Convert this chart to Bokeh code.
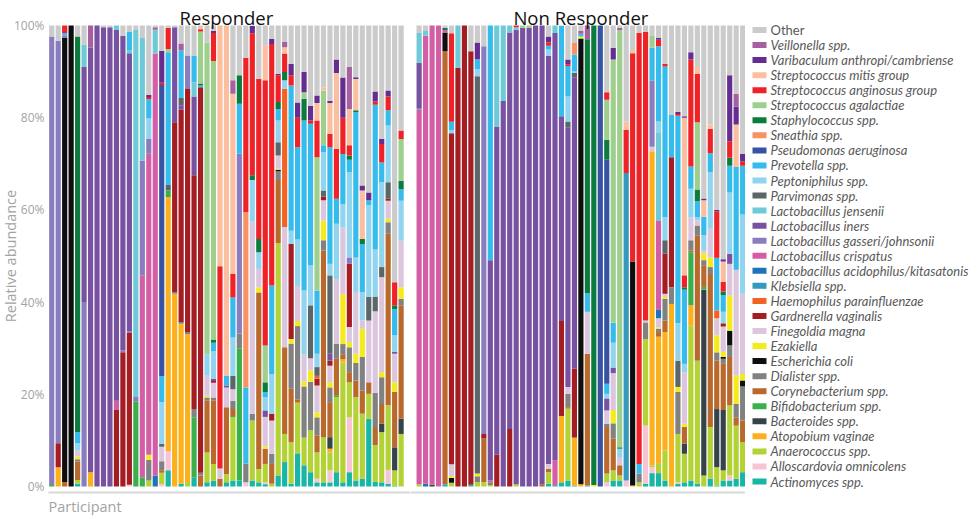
from math import pi
from bokeh.plotting import figure
from bokeh.models import ColumnDataSource, Range1d, Label
from bokeh.layouts import row
from bokeh.embed import file_html
from bokeh.resources import INLINE
from bokeh.core.properties import value

# ---------------- data ----------------
# stacking order, bottom -> top
taxa = ["act", "all", "ana", "ato", "bac", "bif", "cor", "dia", "eco", "eza", "fin",
        "gar", "hae", "kle", "lac", "lcr", "lga", "lin", "lje", "par", "pep", "pre",
        "pse", "sne", "sta", "sag", "san", "smi", "var", "vei", "oth"]

taxon_names = ["Actinomyces spp.", "Alloscardovia omnicolens", "Anaerococcus spp.",
               "Atopobium vaginae", "Bacteroides spp.", "Bifidobacterium spp.",
               "Corynebacterium spp.", "Dialister spp.", "Escherichia coli", "Ezakiella",
               "Finegoldia magna", "Gardnerella vaginalis", "Haemophilus parainfluenzae",
               "Klebsiella spp.", "Lactobacillus acidophilus/kitasatonis",
               "Lactobacillus crispatus", "Lactobacillus gasseri/johnsonii",
               "Lactobacillus iners", "Lactobacillus jensenii", "Parvimonas spp.",
               "Peptoniphilus spp.", "Prevotella spp.", "Pseudomonas aeruginosa",
               "Sneathia spp.", "Staphylococcus spp.", "Streptococcus agalactiae",
               "Streptococcus anginosus group", "Streptococcus mitis group",
               "Varibaculum anthropi/cambriense", "Veillonella spp.", "Other"]

taxon_colors = ["#17b6a5", "#f8c3d5", "#b3d236", "#fcb01b", "#36434b", "#3bb04a",
                "#b8692b", "#818181", "#0e0e0e", "#f5ea1b", "#dcc6dd",
                "#a41d22", "#f26224", "#3598bd", "#1d74bb", "#d45ea6", "#8a7dbf",
                "#7851a1", "#6fcad7", "#5b6669", "#90d4ef", "#35bbec",
                "#3853a4", "#f79263", "#0c7c3e", "#9ecf8c", "#ee2227", "#fbbf9f",
                "#662d90", "#a5619f", "#cbcbcb"]

panel_titles = ["Responder", "Non Responder"]
y_ticks = [0, 20, 40, 60, 80, 100]
y_tick_labels = ["0%", "20%", "40%", "60%", "80%", "100%"]
y_title = "Relative abundance"
x_title = "Participant"

# relative abundance (%) per participant; "oth" = remainder to 100
responder = [
    dict(bif=.3, lga=97.3),
    dict(ato=4.2, gar=5.2, lga=87.3),
    dict(cor=1, eco=96.3, lga=.6, pre=.5, san=1.6),
    dict(eco=100),
    dict(act=.6, ana=.8, cor=4, dia=.5, eza=.6, fin=1.3, pep=1.6, pre=2.4, sta=85.8),
    dict(lga=40, lin=51, lje=4.9),
    dict(ato=3.1, lin=92.1, vei=4.8),
    dict(lin=100),
    dict(lin=99.6),
    dict(lin=99.6),
    dict(gar=16.6, lcr=2, lin=80.4, lje=1),
    dict(gar=29.1, lga=.4, lin=68.3),
    dict(all=.4, gar=32.9, lga=.3, lin=60.4, lje=.7, pre=4),
    dict(bif=18.5, lga=.9, lje=79.6),
    dict(bif=2, lcr=43.8, lga=24.9, lje=26.6),
    dict(ana=1.3, dia=4.5, eza=1.1, lcr=65.3, lga=3.3, pep=4.3, pre=4.2, san=.5, var=.4),
    dict(lac=2.4, lcr=91.5, lje=5.2, vei=.5),
    dict(all=.5, ana=2.5, cor=.5, dia=2, fin=3.1, par=.7, pep=9, pre=5.6, pse=63.2, san=.5, var=6.9),
    dict(act=3.5, all=4.2, ato=55.1, bif=1.4, par=1.2, pre=28.8, sag=.7, san=4.6),
    dict(ato=41.8, dia=.4, gar=36.8, lin=20.6),
    dict(act=.6, ato=34.7, dia=.4, gar=46, lin=1, par=1.6, pre=10.3, vei=1.5),
    dict(ana=1, ato=32, dia=.4, gar=52.8, lga=7.3),
    dict(act=1.9, bif=13.1, dia=1.8, gar=50.7, lin=17.1, lje=3.1, pre=5.8),
    dict(cor=2.4, dia=.6, gar=83.6, pre=.4, sta=.4, sag=11.3, san=.5, smi=.5),
    dict(act=.9, ana=6.5, cor=11.2, dia=.7, eza=.4, fin=4.3, pep=4.7, sag=67.6),
    dict(act=1.3, ana=3.6, cor=13.7, dia=.7, fin=3.2, gar=.4, lin=.4, pep=6.1, pre=1.8, sta=.7, sag=60.4, san=6.1, var=.4),
    dict(cor=1.7, fin=2.2, san=43.9, smi=52.2),
    dict(act=.9, ana=1.8, cor=14.5, fin=4.3, lin=.4, pre=2.2, smi=75.9),
    dict(act=1.3, ana=13.7, bif=.3, cor=1.5, dia=1.8, fin=2.5, par=2.9, pep=8.3, pre=8.7, san=5.1, smi=39.1, vei=2.9),
    dict(act=1.3, bif=28.6, dia=3.3, lga=39, pre=10.8, sta=6.2),
    dict(all=.9, dia=4.1, pre=16.5, sne=38, san=33.5),
    dict(act=1.3, ana=13, dia=1.5, fin=41.7, pep=9, sta=1, san=30.8, var=1.6),
    dict(act=.9, ana=2.9, cor=38.3, eza=1.1, fin=4, pep=3.6, sta=2.9, san=34.7),
    dict(act=.5, all=.4, ana=4, cor=3.3, eza=.5, fin=6.4, lin=1.4, pep=2.9, pre=1.1, sta=2.1, sag=8, san=57.5, smi=7.6),
    dict(ana=.6, cor=4.3, dia=2.2, fin=7.2, gar=1.5, pep=8.6, pre=19.2, san=52.4, var=1.1),
    dict(act=2.4, ana=50.4, cor=13.7, dia=1.9, eco=.3, eza=.2, fin=2.9, par=2.9, pep=4.7, pre=2.5, sta=1.5, san=5.8, var=.3),
    dict(act=5.3, ana=6.1, cor=18.8, fin=26.1, hae=30, pep=1.8, sta=1.8, san=4, smi=1.4, vei=1.1),
    dict(act=.6, ana=9, cor=11.6, dia=9.8, eza=1, gar=20.6, pep=2.9, pre=31.5, san=2.2, var=2.5),
    dict(act=7.2, ana=11, cor=.7, dia=15.9, eza=1.1, fin=7.6, pep=10.1, pre=20, san=6.4, var=3.3),
    dict(act=4.6, ana=6, dia=11.1, eza=1.1, fin=5.8, pep=13.9, pre=36.9, sta=4.7, sag=1.4, var=4.4),
    dict(act=3.1, ana=9.1, dia=10.5, eza=2.5, fin=2.6, par=11.5, pep=8.7, pre=30.7, san=.7, var=3.2),
    dict(act=.9, all=.8, ana=5.7, cor=3.7, dia=3.9, eza=1.1, fin=5.8, gar=1.5, hae=.6, par=1.9, pep=2.9, pre=13.7, sag=28.9, san=8, smi=3.8, var=1.6),
    dict(act=.9, ana=9.8, cor=40.5, dia=2.2, eza=4.3, fin=4.4, gar=.8, par=1.3, pep=8.3, pre=1.5, sag=11.9, smi=.7),
    dict(act=.9, all=2.6, ana=3.9, ato=.8, bac=2.5, cor=7.6, dia=3.2, eza=1.1, fin=3.6, gar=1.1, lin=1.5, par=17, pep=2.5, pre=25.3, san=2.9, smi=6.7, var=.5),
    dict(act=3.1, ana=16.3, bif=.4, cor=7.9, dia=3.3, fin=14, pep=12, pre=5.4, san=10.8, smi=16.5, var=2.9),
    dict(act=.9, ana=26, ato=.7, cor=1.1, dia=2.2, eza=10.8, fin=14.5, pep=5, pre=10.9, san=7.9, var=8.7),
    dict(act=3.1, all=11.9, ana=7.6, cor=2.2, dia=5.4, eza=1.1, fin=3.3, gar=13.7, lga=1.4, pep=18.5, pre=2.7, sta=.9, san=2.2, smi=7.9, vei=9.1),
    dict(act=1.3, ana=18.1, cor=3.6, dia=3.8, eza=2, fin=13.4, pep=7.5, pre=31.5, sta=.4, smi=6.8, var=.4),
    dict(act=1.7, ana=14.1, cor=5, dia=7.3, eza=6.1, fin=1.8, pep=6.2, pre=10.4, sta=1.1, smi=10.5, var=1.1),
    dict(act=14.7, ana=5.4, cor=2.5, fin=13.4, par=5.1, pep=19.9, pre=1.1, var=1.7),
    dict(act=1, ana=8, cor=3.9, dia=7.4, fin=17.7, par=3.2, pep=10.2, pre=31.4, san=.7, var=2.2),
    dict(act=.9, ana=10.9, bac=1.8, cor=4.3, dia=5.8, eza=1.1, fin=20.6, par=2.2, pep=18.4, pre=4.3, san=4, var=1.1),
    dict(act=.6, all=3, ana=14, cor=37.2, dia=2.5, eza=.8, fin=3.9, gar=.4, par=3.6, pep=12.3, pre=3.3, san=3, var=1.3),
    dict(act=.2, ana=3.3, bac=5, cor=12, eza=2.1, fin=6.2, lin=.4, pep=3.6, pre=5.7, sta=.8, san=5),
    dict(ana=11.4, bac=3.3, cor=24.6, dia=1.4, eza=2.5, fin=10.1, pep=8.7, pre=2.5, sta=1.8, sag=9.1, san=1.8),
]

non_responder = [
    dict(ana=.5, lcr=81.2, lga=.4, lin=9.8, lje=6.5),
    dict(lac=.6, lcr=97.2, lje=1),
    dict(bac=.4, lcr=99.6),
    dict(lcr=100),
    dict(act=.5, cor=93.9, eco=4.1, lcr=.5, sta=.5),
    dict(ana=.8, eco=1.1, eza=.4, fin=2.5, gar=71.8, pep=.7, pre=1.8, san=19.2),
    dict(gar=90.8, lje=9.2),
    dict(gar=100),
    dict(act=.4, gar=94),
    dict(ana=1, dia=1.2, eza=.6, par=86.2, pep=1.5, pre=2.2, var=3.6),
    dict(ana=1, cor=9.4, gar=1, lga=84.1),
    dict(ana=.3, dia=.6, lcr=.4, lin=47.8, pre=50.9),
    dict(gar=6.9, lin=71.2, lje=21.9),
    dict(lin=83.6, lje=16.4),
    dict(gar=12.5, lin=86, lje=1.5),
    dict(ana=.5, lin=98.6, lje=.5, san=.4),
    dict(lin=99.5, sag=.5),
    dict(lin=99.5, sag=.5),
    dict(lin=100),
    dict(cor=.5, lin=99.5),
    dict(act=.6, ana=2.5, cor=.7, fin=1.1, lin=88.5, pep=1.4, pre=.8, san=.7, var=1.3),
    dict(act=.3, lcr=5.4, lin=92.7, lje=1.6),
    dict(act=.9, ato=14.4, gar=20.6, lin=44.4, pre=19.6),
    dict(act=1.3, ana=15.6, cor=.3, dia=2.9, fin=1.5, lin=56.2, par=1.4, pep=5.4, pre=6.6, san=.4, var=1),
    dict(act=.2, ato=10.4, gar=15, lin=63.2, par=.9, pep=.3, pre=3.7, sne=2.5),
    dict(ato=.5, eco=96.7, eza=.4, pre=.6, vei=.6),
    dict(act=.2, cor=28.6, fin=9.1, pre=4.1, sta=55, vei=3),
    dict(eza=.3, sta=99.7),
    dict(pse=100),
    dict(all=.9, ana=1.9, cor=10.1, dia=.7, fin=2.9, lin=2.6, pep=1, pre=2.2, pse=48.6, sta=4.3, sag=8.7, san=1.6),
    dict(act=1.3, ana=2.2, cor=6.9, dia=3.3, eza=2.9, fin=8, lin=1.2, pep=5.4, pre=4.3, sag=57.1, var=2.5),
    dict(act=1.3, ana=1.1, cor=2.2, fin=1.8, pep=1.8, sta=.3, sag=90.5, vei=.5),
    dict(all=1.3, kle=66.7, san=9.4, smi=1.8),
    dict(ato=.2, eco=48.6, san=45.2, smi=.7),
    dict(ana=.9, dia=1.9, pre=2.1, san=93.5),
    dict(act=.6, all=12.6, ana=18.8, dia=3.6, fin=.4, san=62.6),
    dict(act=2.9, all=1.3, ana=.4, ato=68.1, fin=1, lga=14.3, pre=7.2, sag=2.5),
    dict(act=2.9, ana=2, ato=27.6, cor=1, dia=.7, eza=.3, fin=2, lac=1.8, lcr=19.3, lje=19.1, pep=2.5, pre=16.3, san=1.4, var=.4),
    dict(act=1.3, ana=6.5, ato=25.7, cor=2.5, dia=4.7, eza=.4, fin=.7, gar=8.7, par=2.9, pep=5, pre=32.7, san=.6),
    dict(ato=39.6, dia=3.6, gar=28.2, pre=9.3),
    dict(act=.6, all=.3, ana=10.5, dia=9.1, eza=1.1, par=5.7, pep=8.1, pre=45, san=.4, var=.5),
    dict(act=.9, ana=6.2, bac=2.2, cor=3.6, eza=.7, fin=11.2, pep=1.8, pre=16.1, sta=.5, san=2.6, smi=34.2, var=.3),
    dict(act=1.3, ana=33.6, ato=4.4, bif=11.5, cor=.4, dia=2.2, fin=5, pep=6.2, pre=4.8, san=23.2, var=1.6),
    dict(act=.6, ana=26.7, cor=27.1, dia=2.2, fin=1.1, pep=.7, pre=3.5, sta=2.5, sag=14.6, san=10.5, smi=1.5),
    dict(ana=2.4, bac=40.3, bif=.6, cor=4.7, dia=1.1, eza=1.5, fin=.7, pep=3.2, pre=4, smi=3.6, var=.4),
    dict(act=1.7, ana=11.2, cor=33.2, dia=1.5, eza=2.1, fin=6.2, pep=12.3, pre=4.1, san=5.3, smi=.9),
    dict(act=.2, ana=4, bac=12.6, cor=10.5, dia=1.8, eza=3.7, fin=3.7, hae=1.7, pre=11.4, san=10.1, var=.3),
    dict(act=1.3, ana=2.2, bac=13.1, cor=10, dia=1.1, eco=.4, eza=1.1, fin=5.5, gar=.7, pep=2.5, pre=3.6, sta=.8, san=2.1, smi=4.4, var=.5),
    dict(act=1.3, all=1.1, ana=15.2, cor=10.5, dia=2.5, eco=3.2, eza=7.6, fin=6.9, lin=2.2, pep=13.3, pre=5.8, sta=1.7, san=3.6, var=14.3),
    dict(act=1.7, ana=11.5, cor=1.8, dia=2.9, eza=6.2, fin=22.9, pre=22.3, smi=9.2, var=3.9, vei=2.8),
    dict(act=3.1, ana=6.5, cor=4.7, dia=7.4, eco=1.3, eza=1.4, fin=17.4, pep=17.2, pre=10.6, san=.9, var=1.7),
]

# ---------------- helpers ----------------
def make_source(bars):
    cols = {k: [] for k in taxa}
    for b in bars:
        total = sum(b.values())
        f = 100.0 / total if total > 100 else 1.0
        for k in taxa[:-1]:
            cols[k].append(b.get(k, 0) * f)
        cols["oth"].append(max(0.0, 100.0 - total * f))
    cols["x"] = list(range(len(bars)))
    return ColumnDataSource(cols)

PX = 6.47           # px per participant
PY = 4.61           # px per percent
H = 515
Y_TOP = 100 + 25 / PY
Y_BOT = -(H - 486) / PY
AXIS_Y = -6 / PY

FONT = "Open Sans"
GREY_TXT = "#a3a3a3"


def panel(bars, title, width, x_start, x_bar0):
    n = len(bars)
    x_end = x_start + width / PX
    p = figure(width=width, height=H, output_backend="svg", toolbar_location=None,
               x_range=Range1d(x_start, x_end), y_range=Range1d(Y_BOT, Y_TOP),
               x_axis_type=None, y_axis_type=None, min_border=0)
    p.outline_line_color = None
    p.grid.visible = False
    p.vbar_stack(taxa, x="x", width=0.8, source=make_source(bars),
                 fill_color=taxon_colors, line_color=None)
    # baseline rule under the bars
    p.segment(x0=[x_bar0], y0=[AXIS_Y], x1=[x_end], y1=[AXIS_Y],
              line_color="#d9d9d9", line_width=2)
    p.add_layout(Label(x=(n - 1) / 2, y=100 + 8 / PY, text=title, text_align="center",
                       text_baseline="alphabetic", text_font=FONT,
                       text_font_size="18.5px", text_color="#111111"))
    return p


# Responder panel: its frame also holds the y tick labels and the y title
R_X0 = -0.5 - 48 / PX
p_r = panel(responder, panel_titles[0], 410, R_X0, -0.5)
p_r.text(x=[-0.5 - 4 / PX] * len(y_ticks), y=y_ticks, text=y_tick_labels,
         text_align="right", text_baseline="middle", text_font=value(FONT),
         text_font_size="12px", text_color=GREY_TXT)
p_r.text(x=[R_X0 + 10 / PX], y=[50], text=[y_title], angle=pi / 2, text_align="center",
         text_baseline="middle", text_font=value(FONT), text_font_size="14.5px",
         text_color=GREY_TXT)
p_r.add_layout(Label(x=-0.5, y=-20 / PY, text=x_title, text_align="left",
                     text_baseline="alphabetic", text_font=FONT, text_font_size="14.5px",
                     text_color=GREY_TXT))

NR_X0 = -0.5 - 5.4 / PX
p_n = panel(non_responder, panel_titles[1], 335, NR_X0, NR_X0)

# legend panel
LW = 979 - 745
p_l = figure(width=LW, height=H, output_backend="svg", toolbar_location=None,
             x_range=Range1d(0, LW), y_range=Range1d(H, 0),
             x_axis_type=None, y_axis_type=None, min_border=0)
p_l.outline_line_color = None
p_l.grid.visible = False
leg_names = taxon_names[::-1]
leg_colors = taxon_colors[::-1]
leg_y = [29.5 + 15.05 * i for i in range(len(leg_names))]
leg_src = ColumnDataSource(dict(y=leg_y, name=leg_names, color=leg_colors,
                                style=["normal"] + ["italic"] * (len(leg_names) - 1)))
p_l.rect(x=14, y="y", width=14, height=6, fill_color="color", line_color=None, source=leg_src)
p_l.text(x=25, y="y", text="name", source=leg_src, text_align="left", text_baseline="middle",
         text_font=value("Lato"), text_font_size="13px", text_font_style="style",
         text_color="#595959")

layout = row(p_r, p_n, p_l, spacing=0)
open("out.html", "w").write(file_html(layout, INLINE))
